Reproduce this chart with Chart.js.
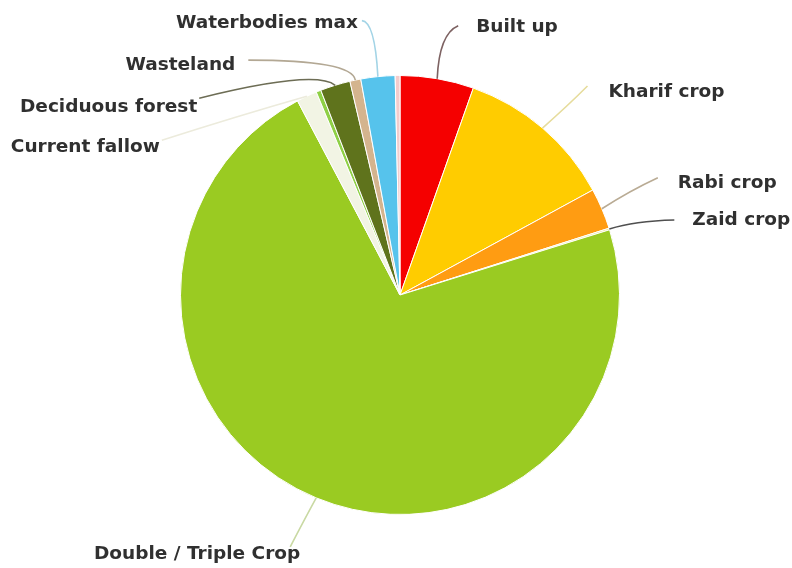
<!DOCTYPE html>
<html>
<head>
<meta charset="utf-8">
<script src="https://cdn.jsdelivr.net/npm/chart.js@4/dist/chart.umd.min.js"></script>
<style>
  html, body { margin: 0; padding: 0; background: #ffffff; }
  #wrap { width: 792px; height: 568px; position: relative; }
</style>
</head>
<body>
<div id="wrap"><canvas id="pie"></canvas></div>
<script>
// Land use / land cover shares (percent of area), clockwise from 12 o'clock
const categories = [
  'Built up', 'Kharif crop', 'Rabi crop', 'Zaid crop', 'Double / Triple Crop',
  'Current fallow', '', 'Deciduous forest', 'Wasteland', 'Waterbodies max', ''
];
const shares = [5.4, 11.6, 3.0, 0.12, 71.8, 1.5, 0.35, 2.2, 0.8, 2.5, 0.35];

// Slice fill colours
const sliceColors = [
  '#f50000', '#ffcc00', '#ff9c12', '#ece488', '#9acb22',
  '#f2f4e4', '#8fd046', '#5f731c', '#d4b48e', '#56c3ec', '#f3cccc'
];
// Leader line colours
const leaderColors = [
  '#7d6262', '#e6dc9c', '#b9ab94', '#4f4f4f', '#c9d9a3',
  '#ecebdc', '#ffffff', '#6d6d55', '#b3a894', '#a3d4e6', '#ffffff'
];

// Label placement, relative to the slice's outer mid point:
// end = leader end, ctrl = curve control, text = text anchor from leader end
const labelLayout = [
  { end: [21, -53], ctrl: [2, -45], text: [18, 2], align: 'left' },
  { end: [45, -42], ctrl: [25, -22], text: [21, 6], align: 'left' },
  { end: [56, -31], ctrl: [28, -18], text: [20, 5], align: 'left' },
  { end: [65, -9], ctrl: [25, -8], text: [18, 0], align: 'left' },
  { end: [-26, 49], ctrl: [-12, 22], text: [10, 7], align: 'right' },
  { end: [-145, 44], ctrl: [-70, 20], text: [-2, 7], align: 'right' },
  null,
  { end: [-136, 13], ctrl: [-20, -16], text: [-2, 9], align: 'right' },
  { end: [-107, -20], ctrl: [-3, -20], text: [-13, 5], align: 'right' },
  { end: [-16, -56], ctrl: [-3, -55], text: [-4, 3], align: 'right' },
  null
];

const leaderLabels = {
  id: 'leaderLabels',
  afterDatasetsDraw(chart) {
    const ctx = chart.ctx;
    const meta = chart.getDatasetMeta(0);
    ctx.save();
    meta.data.forEach((arc, i) => {
      const lay = labelLayout[i];
      if (!lay || !categories[i]) return;
      const mid = (arc.startAngle + arc.endAngle) / 2;
      const sx = arc.x + Math.cos(mid) * arc.outerRadius;
      const sy = arc.y + Math.sin(mid) * arc.outerRadius;
      const ex = sx + lay.end[0], ey = sy + lay.end[1];
      const cx = sx + lay.ctrl[0], cy = sy + lay.ctrl[1];
      ctx.beginPath();
      ctx.moveTo(sx, sy);
      ctx.quadraticCurveTo(cx, cy, ex, ey);
      ctx.strokeStyle = leaderColors[i];
      ctx.lineWidth = 1.6;
      ctx.stroke();
      ctx.font = 'bold 18.5px "DejaVu Sans", sans-serif';
      ctx.fillStyle = '#303030';
      ctx.textAlign = lay.align;
      ctx.textBaseline = 'middle';
      ctx.fillText(categories[i], ex + lay.text[0], ey + lay.text[1]);
    });
    ctx.restore();
  }
};

new Chart(document.getElementById('pie'), {
  type: 'pie',
  data: {
    labels: categories,
    datasets: [{
      data: shares,
      backgroundColor: sliceColors,
      borderColor: '#ffffff',
      borderWidth: 1
    }]
  },
  options: {
    responsive: true,
    maintainAspectRatio: false,
    animation: false,
    layout: { padding: { left: 180, right: 172, top: 75, bottom: 53 } },
    plugins: {
      legend: { display: false },
      tooltip: { enabled: false }
    }
  },
  plugins: [leaderLabels]
});
</script>
</body>
</html>
